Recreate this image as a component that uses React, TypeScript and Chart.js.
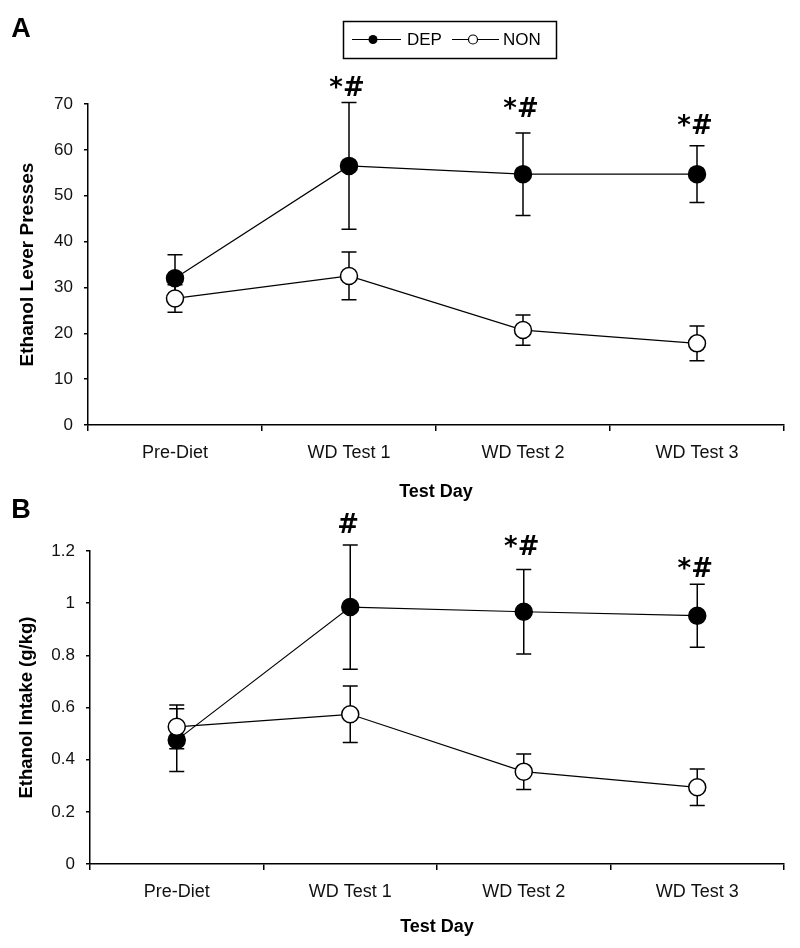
import React, { useEffect, useRef } from "react";
import { Chart, registerables } from "chart.js";

Chart.register(...registerables);

const FONT = "'Liberation Sans', Arial, sans-serif";

const categories = ["Pre-Diet", "WD Test 1", "WD Test 2", "WD Test 3"];
const seriesNames = ["DEP", "NON"];
const xTitle = "Test Day";

// Panel A: Ethanol lever presses
const depPressMean = [32.0, 56.5, 54.7, 54.7];
const depPressErr = [5.1, 13.8, 9.0, 6.2];
const nonPressMean = [27.6, 32.5, 20.7, 17.8];
const nonPressErr = [3.0, 5.2, 3.3, 3.8];
const pressMarks = ["", "*#", "*#", "*#"];
const pressMarkY = [null, 71.7, 67.1, 63.4];
const pressTicks = ["0", "10", "20", "30", "40", "50", "60", "70"];
const pressTitle = "Ethanol Lever Presses";

// Panel B: Ethanol intake (g/kg)
const depIntakeMean = [0.475, 0.985, 0.967, 0.952];
const depIntakeErr = [0.12, 0.238, 0.162, 0.121];
const nonIntakeMean = [0.526, 0.574, 0.354, 0.294];
const nonIntakeErr = [0.084, 0.108, 0.068, 0.07];
const intakeMarks = ["", "#", "*#", "*#"];
const intakeMarkY = [null, 1.269, 1.185, 1.102];
const intakeTicks = ["0", "0.2", "0.4", "0.6", "0.8", "1", "1.2"];
const intakeTitle = "Ethanol Intake (g/kg)";

const errorBarPlugin = {
  id: "errorBars",
  beforeDatasetsDraw(chart: any) {
    const { ctx } = chart;
    const yScale = chart.scales.y;
    chart.data.datasets.forEach((ds: any, di: number) => {
      const meta = chart.getDatasetMeta(di);
      meta.data.forEach((pt: any, i: number) => {
        const v = ds.data[i];
        const e = ds.errors[i];
        const x = pt.x;
        const yTop = yScale.getPixelForValue(v + e);
        const yBot = yScale.getPixelForValue(v - e);
        ctx.save();
        ctx.strokeStyle = "#000";
        ctx.lineWidth = 1.5;
        ctx.beginPath();
        ctx.moveTo(x, yTop);
        ctx.lineTo(x, yBot);
        ctx.moveTo(x - 7.5, yTop);
        ctx.lineTo(x + 7.5, yTop);
        ctx.moveTo(x - 7.5, yBot);
        ctx.lineTo(x + 7.5, yBot);
        ctx.stroke();
        ctx.restore();
      });
    });
  },
};

function makeMarksPlugin(marks: string[], markY: (number | null)[]) {
  return {
    id: "sigMarks",
    afterDatasetsDraw(chart: any) {
      const { ctx } = chart;
      const xs = chart.scales.x;
      const ys = chart.scales.y;
      ctx.save();
      ctx.fillStyle = "#000";
      ctx.font = "bold 26px 'DejaVu Sans', sans-serif";
      ctx.textAlign = "center";
      ctx.textBaseline = "alphabetic";
      marks.forEach((m, i) => {
        const yv = markY[i];
        if (!m || yv === null) return;
        ctx.fillText(m, xs.getPixelForValue(i) - 2, ys.getPixelForValue(yv));
      });
      ctx.restore();
    },
  };
}

function makeDecorPlugin(letter: string, letterY: number, withLegend: boolean) {
  return {
    id: "decor",
    afterDraw(chart: any) {
      const { ctx } = chart;
      ctx.save();
      ctx.fillStyle = "#000";
      ctx.font = `bold 27px ${FONT}`;
      ctx.textAlign = "center";
      ctx.textBaseline = "middle";
      ctx.fillText(letter, 21, letterY);
      if (withLegend) {
        const cy = 39.5;
        ctx.strokeStyle = "#000";
        ctx.lineWidth = 1.5;
        ctx.strokeRect(343.5, 21.5, 213, 37);
        ctx.lineWidth = 1.2;
        // DEP
        ctx.beginPath();
        ctx.moveTo(352, cy);
        ctx.lineTo(401, cy);
        ctx.stroke();
        ctx.beginPath();
        ctx.arc(373, cy, 4.5, 0, Math.PI * 2);
        ctx.fillStyle = "#000";
        ctx.fill();
        ctx.font = `17px ${FONT}`;
        ctx.textAlign = "left";
        ctx.fillText(seriesNames[0], 407, cy + 1);
        // NON
        ctx.beginPath();
        ctx.moveTo(452, cy);
        ctx.lineTo(499, cy);
        ctx.stroke();
        ctx.beginPath();
        ctx.arc(473, cy, 4.5, 0, Math.PI * 2);
        ctx.fillStyle = "#fff";
        ctx.fill();
        ctx.stroke();
        ctx.fillStyle = "#000";
        ctx.fillText(seriesNames[1], 503, cy + 1);
      }
      ctx.restore();
    },
  };
}

function makeConfig(p: any): any {
  const common = {
    borderColor: "#000",
    borderWidth: 1.2,
    pointRadius: 8.5,
    pointBorderColor: "#000",
    pointBorderWidth: 1.5,
    tension: 0,
    clip: false,
  };
  return {
    type: "line",
    data: {
      labels: categories,
      datasets: [
        { ...common, label: seriesNames[0], data: p.dep, errors: p.depErr, pointBackgroundColor: "#000", order: 1 },
        { ...common, label: seriesNames[1], data: p.non, errors: p.nonErr, pointBackgroundColor: "#fff", order: 0 },
      ],
    },
    options: {
      responsive: false,
      maintainAspectRatio: false,
      animation: false,
      devicePixelRatio: 1,
      events: [],
      layout: { padding: { top: p.padTop, right: 16, bottom: p.padBottom, left: 0 } },
      plugins: { legend: { display: false }, tooltip: { enabled: false } },
      scales: {
        x: {
          type: "category",
          offset: true,
          grid: { offset: true, drawOnChartArea: false, drawTicks: true, tickLength: 6, color: "#000", lineWidth: 1.5 },
          border: { display: true, color: "#000", width: 1.5 },
          ticks: { color: "#111", font: { family: FONT, size: 18 }, padding: 11, maxRotation: 0, autoSkip: false },
          title: { display: true, text: xTitle, color: "#000", font: { family: FONT, size: 18, weight: "bold" }, padding: 0 },
          afterFit: (s: any) => {
            s.height = p.xAxisH;
          },
        },
        y: {
          min: 0,
          max: p.max,
          ticks: {
            stepSize: p.step,
            color: "#111",
            font: { family: FONT, size: 17 },
            padding: 11,
            callback: (_v: any, i: number) => p.tickLabels[i],
          },
          grid: { drawOnChartArea: false, drawTicks: true, tickLength: 4, color: "#000", lineWidth: 1.5 },
          border: { display: true, color: "#000", width: 1.5 },
          title: { display: true, text: p.yTitle, color: "#000", font: { family: FONT, size: p.yTitleSize, weight: "bold" }, padding: { top: 16, bottom: 0 } },
          afterFit: (s: any) => {
            s.width = p.yAxisW;
          },
        },
      },
    },
    plugins: [errorBarPlugin, makeMarksPlugin(p.marks, p.markY), makeDecorPlugin(p.letter, p.letterY, p.legend)],
  };
}

export default function App() {
  const refA = useRef<HTMLCanvasElement>(null);
  const refB = useRef<HTMLCanvasElement>(null);

  useEffect(() => {
    const a = new Chart(
      refA.current as HTMLCanvasElement,
      makeConfig({
        dep: depPressMean,
        depErr: depPressErr,
        non: nonPressMean,
        nonErr: nonPressErr,
        marks: pressMarks,
        markY: pressMarkY,
        tickLabels: pressTicks,
        yTitle: pressTitle,
        yTitleSize: 19,
        max: 70,
        step: 10,
        padTop: 104,
        padBottom: 0,
        xAxisH: 78,
        yAxisW: 88,
        letter: "A",
        letterY: 30,
        legend: true,
      })
    );
    const b = new Chart(
      refB.current as HTMLCanvasElement,
      makeConfig({
        dep: depIntakeMean,
        depErr: depIntakeErr,
        non: nonIntakeMean,
        nonErr: nonIntakeErr,
        marks: intakeMarks,
        markY: intakeMarkY,
        tickLabels: intakeTicks,
        yTitle: intakeTitle,
        yTitleSize: 18.5,
        max: 1.2,
        step: 0.2,
        padTop: 71,
        padBottom: 10,
        xAxisH: 74,
        yAxisW: 90,
        letter: "B",
        letterY: 31,
        legend: false,
      })
    );
    return () => {
      a.destroy();
      b.destroy();
    };
  }, []);

  return (
    <div style={{ position: "absolute", left: 0, top: 0, width: 800, height: 948, background: "#fff" }}>
      <canvas ref={refA} width={800} height={503} style={{ position: "absolute", left: 0, top: 0, width: 800, height: 503 }} />
      <canvas ref={refB} width={800} height={468} style={{ position: "absolute", left: 0, top: 480, width: 800, height: 468 }} />
    </div>
  );
}
